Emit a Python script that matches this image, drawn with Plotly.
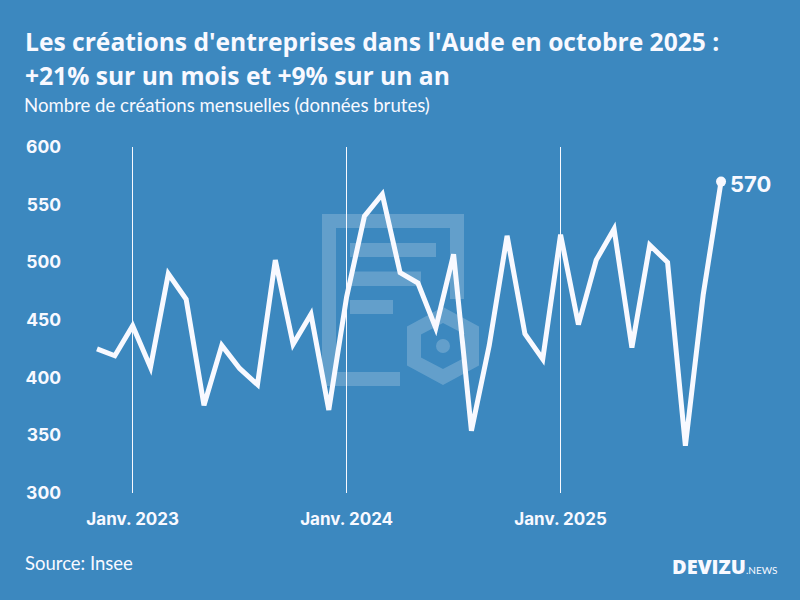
import plotly.graph_objects as go

MONTHS = ["2022-11", "2022-12",
          "2023-01", "2023-02", "2023-03", "2023-04", "2023-05", "2023-06",
          "2023-07", "2023-08", "2023-09", "2023-10", "2023-11", "2023-12",
          "2024-01", "2024-02", "2024-03", "2024-04", "2024-05", "2024-06",
          "2024-07", "2024-08", "2024-09", "2024-10", "2024-11", "2024-12",
          "2025-01", "2025-02", "2025-03", "2025-04", "2025-05", "2025-06",
          "2025-07", "2025-08", "2025-09", "2025-10"]
CREATIONS = [425, 419, 445, 409, 490, 468, 376, 428, 408, 394, 502, 429, 455, 372,
             470, 540, 559, 491, 482, 443, 507, 354, 428, 523, 438, 416,
             524, 446, 502, 529, 426, 515, 500, 341, 472, 570]
X_TICKS = ["2023-01", "2024-01", "2025-01"]
X_LABELS = ["Janv. 2023", "Janv. 2024", "Janv. 2025"]
Y_TICKS = [300, 350, 400, 450, 500, 550, 600]

BG = "#3c88bf"
FG = "#f8f9ff"
FONT = "Lato"
HEAD = "Open Sans"
NUM = "Inter"
W, H = 800, 600
L, R, T, B = 62, 785, 147, 493
WM = "rgba(255,255,255,0.2)"


def px(x):
    return (x - L) / (R - L)


def py(y):
    return (B - y) / (B - T)


def rect(x0, y0, x1, y1):
    return dict(type="rect", xref="paper", yref="paper", layer="below",
                x0=px(x0), x1=px(x1), y0=py(y0), y1=py(y1),
                fillcolor=WM, line_width=0)


def hexpath(cx, cy, rx, ry):
    pts = [(cx, cy - ry), (cx + rx, cy - ry / 2), (cx + rx, cy + ry / 2),
           (cx, cy + ry), (cx - rx, cy + ry / 2), (cx - rx, cy - ry / 2)]
    return "M" + " L".join(f"{px(a):.5f},{py(b):.5f}" for a, b in pts) + " Z"


shapes = [
    rect(322, 214, 336, 386),
    rect(336, 214, 464, 228),
    rect(450, 228, 464, 299),
    rect(350, 243, 436, 257),
    rect(350, 271.5, 421, 286),
    rect(350, 300, 393, 314),
    rect(336, 372, 400, 386),
    dict(type="path", xref="paper", yref="paper", layer="below",
         path=hexpath(443, 346, 36, 39) + " " + hexpath(443, 346, 22, 23),
         fillcolor=WM, fillrule="evenodd", line_width=0),
    dict(type="circle", xref="paper", yref="paper", layer="below",
         x0=px(436), x1=px(450), y0=py(353), y1=py(339),
         fillcolor=WM, line_width=0),
]

fig = go.Figure()
fig.add_trace(go.Scatter(x=MONTHS, y=CREATIONS, mode="lines",
                         line=dict(color=FG, width=5), hoverinfo="x+y"))
fig.add_trace(go.Scatter(x=MONTHS[-1:], y=CREATIONS[-1:], mode="markers",
                         marker=dict(color=FG, size=10)))

x_per_px = 1 / 17.83
fig.update_layout(
    width=W, height=H, autosize=False, showlegend=False,
    paper_bgcolor=BG, plot_bgcolor=BG,
    margin=dict(l=L, r=W - R, t=T, b=H - B, pad=0),
    font=dict(family=FONT, color=FG),
    title=dict(text="Les créations d'entreprises dans l'Aude en octobre 2025 :",
               x=25 / W, xanchor="left", xref="container", y=1 - 42 / H, yanchor="middle",
               font=dict(family=HEAD, size=24.6, color=FG, weight="bold")),
    xaxis=dict(type="category", categoryorder="array", categoryarray=MONTHS,
               range=[(L - 97) * x_per_px, (R - 97) * x_per_px],
               tickmode="array", tickvals=X_TICKS, ticktext=X_LABELS,
               showgrid=True, gridcolor=FG, gridwidth=1, zeroline=False, showline=False,
               ticks="", ticklabelstandoff=14,
               tickfont=dict(family=NUM, size=17, color=FG, weight="bold")),
    yaxis=dict(range=[300, 600], tickmode="array", tickvals=Y_TICKS,
               showgrid=False, zeroline=False, showline=False, ticks="",
               tickfont=dict(family=NUM, size=17.5, color=FG, weight="bold")),
    shapes=shapes,
    annotations=[
        dict(text="+21% sur un mois et +9% sur un an", xref="paper", yref="paper",
             x=px(25), y=py(75), xanchor="left", yanchor="middle", showarrow=False, xshift=-2,
             font=dict(family=HEAD, size=24.6, color=FG, weight="bold")),
        dict(text="Nombre de créations mensuelles (données brutes)", xref="paper", yref="paper",
             x=px(25), y=py(105), xanchor="left", yanchor="middle", showarrow=False, xshift=-3,
             font=dict(family=FONT, size=18.6, color=FG)),
        dict(text="Source: Insee", xref="paper", yref="paper",
             x=px(25), y=py(563), xanchor="left", yanchor="middle", showarrow=False, xshift=-2,
             font=dict(family=FONT, size=18.5, color=FG)),
        dict(text=str(CREATIONS[-1]), x=MONTHS[-1], y=CREATIONS[-1], xref="x", yref="y",
             xanchor="left", yanchor="middle", showarrow=False, xshift=7, yshift=-2,
             font=dict(family=NUM, size=22, color=FG, weight="bold")),
        dict(text="DEVIZU", xref="paper", yref="paper",
             x=px(748), y=py(566), xanchor="right", yanchor="middle", showarrow=False,
             font=dict(family=HEAD, size=20, color=FG, weight=800)),
        dict(text=".NEWS", xref="paper", yref="paper",
             x=px(744), y=py(570), xanchor="left", yanchor="middle", showarrow=False,
             font=dict(family=FONT, size=10, color=FG)),
    ],
)

fig.write_html("out.html", config={"displayModeBar": False},
               post_script="document.body.style.margin='0';"
                           "document.querySelectorAll('.js-line').forEach(function(p){"
                           "p.style.strokeLinejoin='miter';p.style.strokeMiterlimit='4';});")
